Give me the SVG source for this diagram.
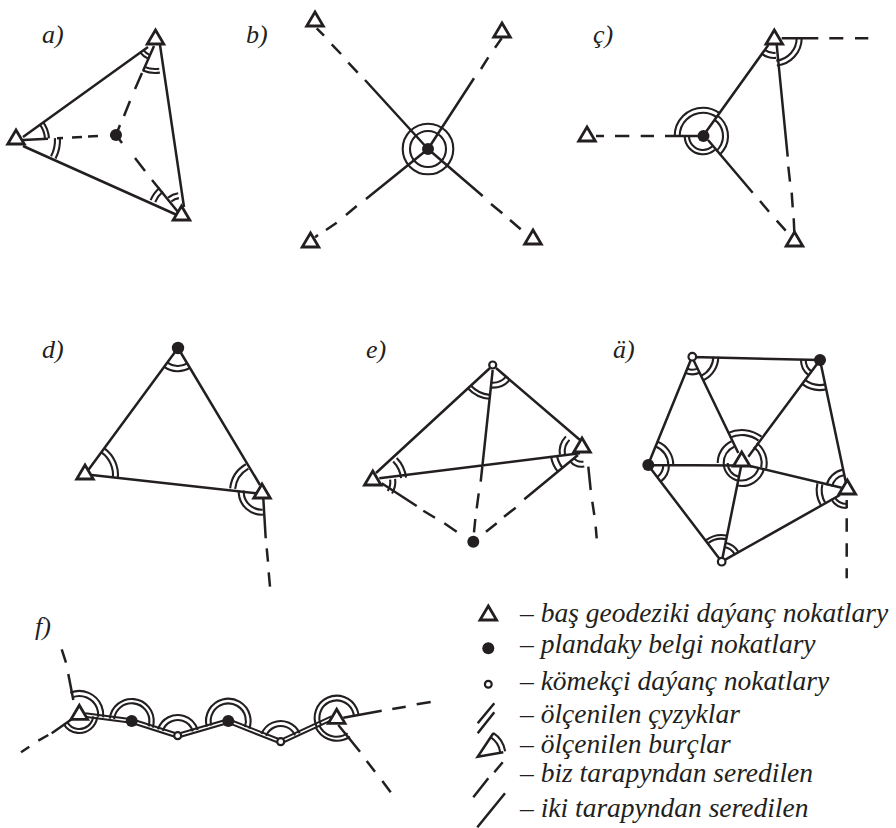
<svg xmlns="http://www.w3.org/2000/svg" width="896" height="828" viewBox="0 0 896 828">
<style>
.s{fill:none;stroke:#231f20;stroke-width:2.5;stroke-linecap:butt}
.a{fill:none;stroke:#231f20;stroke-width:2.1}
.t{fill:#fff;stroke:#231f20;stroke-width:2.8;stroke-linejoin:miter}
.d{fill:#231f20}
.o{fill:#fff;stroke:#231f20;stroke-width:2.2}
.x{font-family:"Liberation Serif","Times New Roman",serif;font-style:italic;font-size:26px;fill:#231f20}
.y{font-family:"Liberation Serif","Times New Roman",serif;font-style:italic;font-size:27.5px;fill:#231f20}
.dbo{fill:none;stroke:#231f20;stroke-width:5.6;stroke-linejoin:miter}
.dbi{fill:none;stroke:#fff;stroke-width:1.6;stroke-linejoin:miter}
</style>
<defs>
<polygon id="tri" class="t" points="0,-14 8.3,0 -8.3,0"/>
</defs>
<rect width="896" height="828" fill="#fff"/>

<g id="connectors">
<path class="s" d="M23 137L148 47M160 45L184 207M23 146L177 215"/>
<path class="s" d="M23 140L48 138.7M57 138.2L63 137.9M72 137.4L82 136.9M88 136.6L98 136.1M110 135.4L116 135M116 135L120 125M124 116L130 101M135 89L142 73M143 71L154 46M116 135L122 143M135 158L145 171M152 180L178 212"/>
<path class="s" d="M316.7 28.3L324 35.7M331.7 44.3L341 54M348.3 62.7L357.7 72.7M365 80L428 149M501.7 38.3L495 47.7M488.3 57.3L481 69M474 78.3L428 149M315 237.3L318 235M326 230L336.7 222.7M346 215L356.7 206M366 199L428 149M428 149L482.7 196M491 204L502.3 213.3M510 220L520.7 229.3"/>
<path class="s" d="M781.7 38.3H818.3M829.3 38.3H843.3M855 38.3H868.3M596 136H604M615 136H629.3M640.7 136H654M665 136H703M703 136L768.3 45M776.7 45L787.7 156.7M788.3 166.7L790 181.7M791.7 192.7L792.7 207.3M793.7 218.3L794.3 231.7M708 140L752.7 192.7M760 201L769 211.7M776.7 220.7L785.7 230.7"/>
<path class="s" d="M178 348L88.3 470M178 348L260 485M91.7 475L256.7 493.3M263.3 498.3L265.7 538.3M266.7 548.3L268 561.7M268.7 572.3L270 586.7"/>
<path class="s" d="M490 368L376 473M496 368L580 440M379.3 478.3L580 453.3M492.7 370L480.7 481.7M478.7 493.3L476.7 508.3M475.3 519L474 532.3M381.7 483.3L416.7 506M423.3 510.7L435 517.7M444.3 523.3L456.7 531.7M486 531.7L496.7 523.3M504 516.7L515.7 507.7M524.3 499.3L578 455M588.3 466.7L590.7 490M592.3 501.7L594.3 515M595.7 526.7L596.7 538.3"/>
<path class="s" d="M692 357L820 360M692 357L648 465M692 357L738.3 453M820 360L748.3 456.7M820 360L846 483M648 465L738 465.5M648 465L721.7 561.7M741 466.7L721.7 561.7M750 466L841.7 487.7M721.7 561.7L840 495M846.7 500V508.3M846.7 518.3V531.7M846.7 543.3V556.7M846.7 568.3V578.3"/>
<path class="s" d="M73.3 700L68.3 674M66 662.7L61.7 649.3M71.7 719.3L51.7 733.3M48.3 735L38.3 740.7M29.3 746.7L21 752.3M343.3 717.7L381.7 710.7M392.3 709L405.7 706.7M416.7 704.3L430.7 702M338.3 725L360 751.7M366.7 761L375 771.7M382.3 781L390.7 792.3"/>
<path class="dbo" d="M85 715L131.7 721L177.7 735.7L228.3 721L280.7 741.7L332 718"/>
<path class="dbi" d="M85 715L131.7 721L177.7 735.7L228.3 721L280.7 741.7L332 718"/>
</g>

<g id="angles" class="a">
<circle cx="155" cy="42" r="18" pathLength="360" stroke-dasharray="30 360" transform="rotate(113 155 42)"/>
<circle cx="155" cy="42" r="14" pathLength="360" stroke-dasharray="30 360" transform="rotate(113 155 42)"/>
<circle cx="155" cy="42" r="31" pathLength="360" stroke-dasharray="32 360" transform="rotate(81 155 42)"/>
<circle cx="155" cy="42" r="27" pathLength="360" stroke-dasharray="32 360" transform="rotate(81 155 42)"/>
<circle cx="19" cy="140" r="30" pathLength="360" stroke-dasharray="34 360" transform="rotate(-37 19 140)"/>
<circle cx="19" cy="140" r="26" pathLength="360" stroke-dasharray="34 360" transform="rotate(-37 19 140)"/>
<circle cx="19" cy="140" r="41" pathLength="360" stroke-dasharray="30 360" transform="rotate(-3 19 140)"/>
<circle cx="19" cy="140" r="36" pathLength="360" stroke-dasharray="30 360" transform="rotate(-3 19 140)"/>
<circle cx="181" cy="213" r="33" pathLength="360" stroke-dasharray="27 360" transform="rotate(203 181 213)"/>
<circle cx="181" cy="213" r="28" pathLength="360" stroke-dasharray="27 360" transform="rotate(203 181 213)"/>
<circle cx="181" cy="213" r="20" pathLength="360" stroke-dasharray="32 360" transform="rotate(230 181 213)"/>
<circle cx="181" cy="213" r="15" pathLength="360" stroke-dasharray="32 360" transform="rotate(230 181 213)"/>
<circle cx="428" cy="149" r="25.3"/>
<circle cx="428" cy="149" r="18"/>
<circle cx="774" cy="38" r="20" pathLength="360" stroke-dasharray="42 360" transform="rotate(84 774 38)"/>
<circle cx="774" cy="38" r="15" pathLength="360" stroke-dasharray="42 360" transform="rotate(84 774 38)"/>
<circle cx="774" cy="38" r="27.7" pathLength="360" stroke-dasharray="84 360"/>
<circle cx="774" cy="38" r="22.7" pathLength="360" stroke-dasharray="84 360"/>
<circle cx="703" cy="136" r="28.3" pathLength="360" stroke-dasharray="126 360" transform="rotate(180 703 136)"/>
<circle cx="703" cy="136" r="23.3" pathLength="360" stroke-dasharray="126 360" transform="rotate(180 703 136)"/>
<circle cx="703" cy="136" r="25" pathLength="360" stroke-dasharray="103 360" transform="rotate(-54 703 136)"/>
<circle cx="703" cy="136" r="20" pathLength="360" stroke-dasharray="103 360" transform="rotate(-54 703 136)"/>
<circle cx="703" cy="136" r="18.3" pathLength="360" stroke-dasharray="131 360" transform="rotate(49 703 136)"/>
<circle cx="703" cy="136" r="14" pathLength="360" stroke-dasharray="131 360" transform="rotate(49 703 136)"/>
<circle cx="178" cy="348" r="23.3" pathLength="360" stroke-dasharray="67 360" transform="rotate(59 178 348)"/>
<circle cx="178" cy="348" r="18" pathLength="360" stroke-dasharray="67 360" transform="rotate(59 178 348)"/>
<circle cx="85" cy="475" r="33" pathLength="360" stroke-dasharray="60 360" transform="rotate(-54 85 475)"/>
<circle cx="85" cy="475" r="28" pathLength="360" stroke-dasharray="60 360" transform="rotate(-54 85 475)"/>
<circle cx="261.7" cy="491.7" r="31.7" pathLength="360" stroke-dasharray="54 360" transform="rotate(186 261.7 491.7)"/>
<circle cx="261.7" cy="491.7" r="26.7" pathLength="360" stroke-dasharray="54 360" transform="rotate(186 261.7 491.7)"/>
<circle cx="261.7" cy="491.7" r="23" pathLength="360" stroke-dasharray="97 360" transform="rotate(87 261.7 491.7)"/>
<circle cx="261.7" cy="491.7" r="18" pathLength="360" stroke-dasharray="97 360" transform="rotate(87 261.7 491.7)"/>
<circle cx="492.7" cy="365" r="34" pathLength="360" stroke-dasharray="41 360" transform="rotate(96 492.7 365)"/>
<circle cx="492.7" cy="365" r="30" pathLength="360" stroke-dasharray="41 360" transform="rotate(96 492.7 365)"/>
<circle cx="492.7" cy="365" r="22.6" pathLength="360" stroke-dasharray="55 360" transform="rotate(41 492.7 365)"/>
<circle cx="492.7" cy="365" r="17.7" pathLength="360" stroke-dasharray="55 360" transform="rotate(41 492.7 365)"/>
<circle cx="372.3" cy="481.7" r="34" pathLength="360" stroke-dasharray="37 360" transform="rotate(-44 372.3 481.7)"/>
<circle cx="372.3" cy="481.7" r="29" pathLength="360" stroke-dasharray="37 360" transform="rotate(-44 372.3 481.7)"/>
<circle cx="372.3" cy="481.7" r="23" pathLength="360" stroke-dasharray="38 360" transform="rotate(-7 372.3 481.7)"/>
<circle cx="372.3" cy="481.7" r="18" pathLength="360" stroke-dasharray="38 360" transform="rotate(-7 372.3 481.7)"/>
<circle cx="581.7" cy="451.7" r="22" pathLength="360" stroke-dasharray="52 360" transform="rotate(172 581.7 451.7)"/>
<circle cx="581.7" cy="451.7" r="17" pathLength="360" stroke-dasharray="52 360" transform="rotate(172 581.7 451.7)"/>
<circle cx="581.7" cy="451.7" r="31" pathLength="360" stroke-dasharray="32 360" transform="rotate(140 581.7 451.7)"/>
<circle cx="581.7" cy="451.7" r="25" pathLength="360" stroke-dasharray="32 360" transform="rotate(140 581.7 451.7)"/>
<circle cx="581.7" cy="451.7" r="15" pathLength="360" stroke-dasharray="60 360" transform="rotate(80 581.7 451.7)"/>
<circle cx="581.7" cy="451.7" r="10" pathLength="360" stroke-dasharray="60 360" transform="rotate(80 581.7 451.7)"/>
<circle cx="692.3" cy="356.7" r="17.6" pathLength="360" stroke-dasharray="48 360" transform="rotate(64 692.3 356.7)"/>
<circle cx="692.3" cy="356.7" r="13" pathLength="360" stroke-dasharray="48 360" transform="rotate(64 692.3 356.7)"/>
<circle cx="692.3" cy="356.7" r="26" pathLength="360" stroke-dasharray="64 360" transform="rotate(0 692.3 356.7)"/>
<circle cx="692.3" cy="356.7" r="21" pathLength="360" stroke-dasharray="64 360" transform="rotate(0 692.3 356.7)"/>
<circle cx="820" cy="360" r="19" pathLength="360" stroke-dasharray="54 360" transform="rotate(127 820 360)"/>
<circle cx="820" cy="360" r="14.3" pathLength="360" stroke-dasharray="54 360" transform="rotate(127 820 360)"/>
<circle cx="820" cy="360" r="30" pathLength="360" stroke-dasharray="50 360" transform="rotate(77 820 360)"/>
<circle cx="820" cy="360" r="25" pathLength="360" stroke-dasharray="50 360" transform="rotate(77 820 360)"/>
<circle cx="648.3" cy="465" r="25" pathLength="360" stroke-dasharray="68 360" transform="rotate(-68 648.3 465)"/>
<circle cx="648.3" cy="465" r="20" pathLength="360" stroke-dasharray="68 360" transform="rotate(-68 648.3 465)"/>
<circle cx="648.3" cy="465" r="20.7" pathLength="360" stroke-dasharray="52 360"/>
<circle cx="648.3" cy="465" r="15" pathLength="360" stroke-dasharray="52 360"/>
<circle cx="721.7" cy="561.7" r="26.7" pathLength="360" stroke-dasharray="48 360" transform="rotate(233 721.7 561.7)"/>
<circle cx="721.7" cy="561.7" r="23" pathLength="360" stroke-dasharray="48 360" transform="rotate(233 721.7 561.7)"/>
<circle cx="721.7" cy="561.7" r="19.4" pathLength="360" stroke-dasharray="49 360" transform="rotate(281 721.7 561.7)"/>
<circle cx="721.7" cy="561.7" r="15" pathLength="360" stroke-dasharray="49 360" transform="rotate(281 721.7 561.7)"/>
<circle cx="846.7" cy="490" r="20.7" pathLength="360" stroke-dasharray="65 360" transform="rotate(193 846.7 490)"/>
<circle cx="846.7" cy="490" r="15" pathLength="360" stroke-dasharray="65 360" transform="rotate(193 846.7 490)"/>
<circle cx="846.7" cy="490" r="30" pathLength="360" stroke-dasharray="43 360" transform="rotate(150 846.7 490)"/>
<circle cx="846.7" cy="490" r="25" pathLength="360" stroke-dasharray="43 360" transform="rotate(150 846.7 490)"/>
<circle cx="846.7" cy="490" r="18" pathLength="360" stroke-dasharray="60 360" transform="rotate(90 846.7 490)"/>
<circle cx="846.7" cy="490" r="14" pathLength="360" stroke-dasharray="60 360" transform="rotate(90 846.7 490)"/>
<circle cx="741.7" cy="463" r="33" pathLength="360" stroke-dasharray="62 360" transform="rotate(245 741.7 463)"/>
<circle cx="741.7" cy="463" r="28" pathLength="360" stroke-dasharray="62 360" transform="rotate(245 741.7 463)"/>
<circle cx="741.7" cy="463" r="24" pathLength="360" stroke-dasharray="65 360" transform="rotate(180 741.7 463)"/>
<circle cx="741.7" cy="463" r="18" pathLength="360" stroke-dasharray="65 360" transform="rotate(180 741.7 463)"/>
<circle cx="741.7" cy="463" r="25" pathLength="360" stroke-dasharray="66 360" transform="rotate(307 741.7 463)"/>
<circle cx="741.7" cy="463" r="20" pathLength="360" stroke-dasharray="66 360" transform="rotate(307 741.7 463)"/>
<circle cx="741.7" cy="463" r="23" pathLength="360" stroke-dasharray="88 360" transform="rotate(13 741.7 463)"/>
<circle cx="741.7" cy="463" r="17.5" pathLength="360" stroke-dasharray="88 360" transform="rotate(13 741.7 463)"/>
<circle cx="741.7" cy="463" r="18" pathLength="360" stroke-dasharray="79 360" transform="rotate(101 741.7 463)"/>
<circle cx="741.7" cy="463" r="14" pathLength="360" stroke-dasharray="79 360" transform="rotate(101 741.7 463)"/>
<circle cx="79.3" cy="715" r="24" pathLength="360" stroke-dasharray="118 360" transform="rotate(248 79.3 715)"/>
<circle cx="79.3" cy="715" r="19" pathLength="360" stroke-dasharray="118 360" transform="rotate(248 79.3 715)"/>
<circle cx="79.3" cy="715" r="18" pathLength="360" stroke-dasharray="144 360" transform="rotate(6 79.3 715)"/>
<circle cx="79.3" cy="715" r="14" pathLength="360" stroke-dasharray="144 360" transform="rotate(6 79.3 715)"/>
<circle cx="131.7" cy="721" r="22" pathLength="360" stroke-dasharray="192 360" transform="rotate(186 131.7 721)"/>
<circle cx="131.7" cy="721" r="17.7" pathLength="360" stroke-dasharray="192 360" transform="rotate(186 131.7 721)"/>
<circle cx="177.7" cy="735.7" r="20.7" pathLength="360" stroke-dasharray="146 360" transform="rotate(198 177.7 735.7)"/>
<circle cx="177.7" cy="735.7" r="15.7" pathLength="360" stroke-dasharray="146 360" transform="rotate(198 177.7 735.7)"/>
<circle cx="228.3" cy="721" r="22.3" pathLength="360" stroke-dasharray="215 360" transform="rotate(165 228.3 721)"/>
<circle cx="228.3" cy="721" r="17.6" pathLength="360" stroke-dasharray="215 360" transform="rotate(165 228.3 721)"/>
<circle cx="280.7" cy="741.7" r="20.7" pathLength="360" stroke-dasharray="134 360" transform="rotate(202 280.7 741.7)"/>
<circle cx="280.7" cy="741.7" r="15.7" pathLength="360" stroke-dasharray="134 360" transform="rotate(202 280.7 741.7)"/>
<circle cx="336.7" cy="717.7" r="22" pathLength="360" stroke-dasharray="197 360" transform="rotate(155 336.7 717.7)"/>
<circle cx="336.7" cy="717.7" r="17.3" pathLength="360" stroke-dasharray="197 360" transform="rotate(155 336.7 717.7)"/>
<circle cx="336.7" cy="717.7" r="23" pathLength="360" stroke-dasharray="100 360" transform="rotate(55 336.7 717.7)"/>
<circle cx="336.7" cy="717.7" r="19" pathLength="360" stroke-dasharray="100 360" transform="rotate(55 336.7 717.7)"/>
</g>

<g id="a-t1"><use href="#tri" x="155.5" y="44"/></g>
<g id="a-t2"><use href="#tri" x="16" y="144"/></g>
<g id="a-t3"><use href="#tri" x="181.5" y="220"/></g>
<g id="a-p"><circle class="d" cx="116" cy="135" r="6"/></g>
<g id="b-t1"><use href="#tri" x="315" y="26"/></g>
<g id="b-t2"><use href="#tri" x="502" y="37"/></g>
<g id="b-t3"><use href="#tri" x="310.5" y="247"/></g>
<g id="b-t4"><use href="#tri" x="533" y="244"/></g>
<g id="b-p"><circle class="d" cx="428" cy="149" r="6"/></g>
<g id="c-t1"><use href="#tri" x="774.3" y="44"/></g>
<g id="c-t2"><use href="#tri" x="587" y="141"/></g>
<g id="c-t3"><use href="#tri" x="794.5" y="246"/></g>
<g id="c-p"><circle class="d" cx="703.5" cy="136" r="6"/></g>
<g id="d-p"><circle class="d" cx="178" cy="348" r="6.2"/></g>
<g id="d-t1"><use href="#tri" x="85" y="479"/></g>
<g id="d-t2"><use href="#tri" x="262" y="498"/></g>
<g id="e-o"><circle class="o" cx="492.7" cy="365" r="3.5"/></g>
<g id="e-t1"><use href="#tri" x="372.8" y="485"/></g>
<g id="e-t2"><use href="#tri" x="582" y="452"/></g>
<g id="e-p"><circle class="d" cx="473.3" cy="541.7" r="6"/></g>
<g id="ae-o1"><circle class="o" cx="692.3" cy="356.7" r="3.8"/></g>
<g id="ae-p1"><circle class="d" cx="820" cy="360" r="6"/></g>
<g id="ae-p2"><circle class="d" cx="648.3" cy="465" r="6"/></g>
<g id="ae-o2"><circle class="o" cx="721.7" cy="561.7" r="3.8"/></g>
<g id="ae-t1"><use href="#tri" x="741.7" y="466"/></g>
<g id="ae-t2"><use href="#tri" x="847.3" y="494"/></g>
<g id="f-t1"><use href="#tri" x="79.3" y="719.3"/></g>
<g id="f-t2"><use href="#tri" x="336.7" y="723.3"/></g>
<g id="f-p1"><circle class="d" cx="131.7" cy="721" r="6"/></g>
<g id="f-o1"><circle class="o" cx="177.7" cy="735.7" r="3.5"/></g>
<g id="f-p2"><circle class="d" cx="228.3" cy="721" r="6"/></g>
<g id="f-o2"><circle class="o" cx="280.7" cy="741.7" r="3.5"/></g>

<g id="labels" class="x">
<text x="42" y="43">a)</text>
<text x="246" y="43">b)</text>
<text x="593" y="43">ç)</text>
<text x="42" y="358">d)</text>
<text x="366" y="358">e)</text>
<text x="613" y="358">ä)</text>
<text x="35" y="635">f)</text>
</g>

<g id="legend">
<g id="l1"><use href="#tri" x="488.3" y="620"/><text class="y" x="520" y="621.7">– baş geodeziki daýanç nokatlary</text></g>
<g id="l2"><circle class="d" cx="488.3" cy="648.3" r="6"/><text class="y" x="520" y="653.3">– plandaky belgi nokatlary</text></g>
<g id="l3"><circle class="o" cx="488.3" cy="684.3" r="3.4"/><text class="y" x="520" y="690">– kömekçi daýanç nokatlary</text></g>
<g id="l4"><path class="s" d="M494.3 703.3L477.7 723.3M494.3 712.3L477.7 733.3"/><text class="y" x="520" y="723.3">– ölçenilen çyzyklar</text></g>
<g id="l5"><path class="s" d="M493.3 733.3L477.7 756.7L503.3 752.3"/><circle class="a" cx="478.5" cy="755.5" r="27" pathLength="360" stroke-dasharray="48 360" transform="rotate(-57 478.5 755.5)"/><circle class="a" cx="478.5" cy="755.5" r="22" pathLength="360" stroke-dasharray="48 360" transform="rotate(-57 478.5 755.5)"/><text class="y" x="520" y="753.3">– ölçenilen burçlar</text></g>
<g id="l6"><path class="s" d="M502.7 762.3L494.3 772.3M488.3 778.3L473.3 797.3"/><text class="y" x="520" y="781.7">– biz tarapyndan seredilen</text></g>
<g id="l7"><path class="s" d="M505 793.3L477.3 827.3"/><text class="y" x="520" y="816.7">– iki tarapyndan seredilen</text></g>
</g>
</svg>
